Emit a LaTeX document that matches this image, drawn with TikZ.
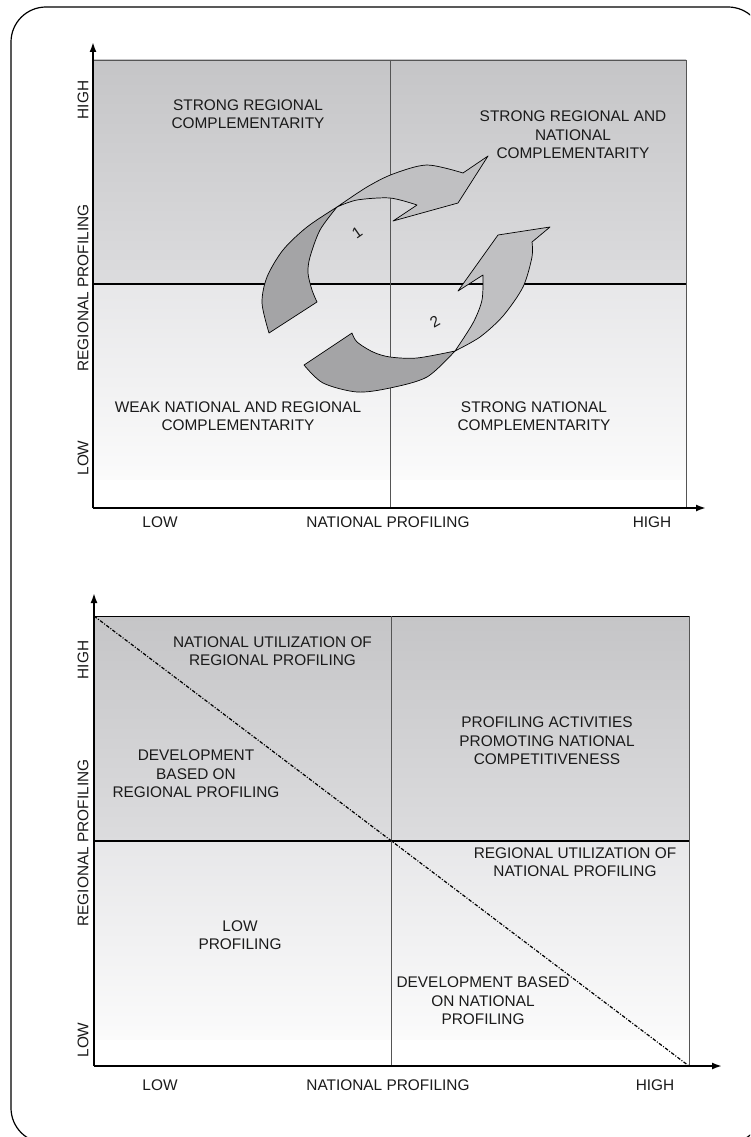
\documentclass[tikz,border=0pt]{standalone}
\usepackage{fontspec}
\setmainfont{Liberation Sans}
\usetikzlibrary{arrows.meta}
\definecolor{qtop}{HTML}{C5C5C7}
\definecolor{qmid}{HTML}{DCDCDE}
\definecolor{qlow}{HTML}{E7E7E9}
\definecolor{qbot}{HTML}{FBFBFB}
\definecolor{arrdk}{HTML}{A4A4A6}
\definecolor{arrlt}{HTML}{C0C0C2}
\definecolor{divgray}{HTML}{555555}
\definecolor{txt}{HTML}{1A1A1A}
\tikzset{
  lbl/.style={align=center, text=txt, inner sep=0pt},
  ylbl/.style={lbl, rotate=90},
  axisline/.style={line width=1.8pt, -{Latex[length=10pt,width=7pt]}},
  hdiv/.style={line width=1.3pt, black},
  vdiv/.style={line width=1pt, divgray},
  border/.style={line width=0.9pt, divgray},
  ribbondk/.style={fill=arrdk, draw=black, line width=0.7pt, line join=round},
  ribbonlt/.style={fill=arrlt, draw=black, line width=0.7pt, line join=round},
  diag/.style={line width=1.2pt, dash pattern=on 3.5pt off 1.6pt on 1pt off 1.6pt},
  frame/.style={line width=1.2pt, rounded corners=35pt},
}
\begin{document}
\begin{tikzpicture}[x=1pt,y=-1pt,font=\fontsize{15.4}{18.5}\selectfont]
\useasboundingbox (0,0) rectangle (750,1137);
\clip (0,0) rectangle (750,1137);
\fill[white] (0,0) rectangle (750,1137);
\draw[frame] (11,7) rectangle (763,1143);

% ---------------- top chart ----------------
\shade[top color=qtop, bottom color=qmid] (93,60) rectangle (686,284);
\shade[top color=qlow, bottom color=qbot] (93,284) rectangle (686,480);
\fill[white] (93,480) rectangle (686,508);
\draw[border] (93,60) -- (686,60) -- (686,508);
\draw[hdiv] (93,284) -- (686,284);
\draw[vdiv] (390,60) -- (390,508);

% ribbon arrow 1
\draw[ribbondk] plot[smooth] coordinates {(269,333) (262,303) (267,277) (283,250) (307,227) (337,207)}
  -- plot[smooth] coordinates {(337,207) (320,230) (310,257) (308,273) (312,290) (317,302)} -- cycle;
\draw[ribbonlt] plot[smooth] coordinates {(337,207) (367,187) (393,174) (427,165) (463,173)}
  -- (488,156) -- (458,203) -- (393,221) -- (417,205)
  -- plot[smooth] coordinates {(417,205) (390,198) (357,200) (337,207)} -- cycle;
% ribbon arrow 2
\draw[ribbondk] plot[smooth] coordinates {(304,365) (323,383) (357,392) (390,388) (427,377) (455,351)}
  -- plot[smooth] coordinates {(455,351) (417,358) (390,357) (373,352) (357,342) (352,333)} -- cycle;
\draw[ribbonlt] plot[smooth] coordinates {(455,351) (480,337) (503,316) (523,287) (532,257) (532,242)}
  -- (550,227) -- (498,235) -- (458,291) -- (483,275)
  -- plot[smooth] coordinates {(483,275) (482,300) (473,323) (455,351)} -- cycle;
\node[lbl, rotate=35] (n1) at (357,233) {1};
\node[lbl, rotate=30] (n2) at (435,322) {2};

\node[lbl] (a1) at (248,114) {STRONG REGIONAL\\COMPLEMENTARITY};
\node[lbl] (a2) at (573,135) {STRONG REGIONAL AND\\NATIONAL\\COMPLEMENTARITY};
\node[lbl] (a3) at (238,416) {WEAK NATIONAL AND REGIONAL\\COMPLEMENTARITY};
\node[lbl] (a4) at (534,416) {STRONG NATIONAL\\COMPLEMENTARITY};

\node[ylbl] (ay1) at (83,100) {HIGH};
\node[ylbl] (ay2) at (83,288) {REGIONAL PROFILING};
\node[ylbl] (ay3) at (83,458) {LOW};
\node[lbl] (ax1) at (160,522) {LOW};
\node[lbl] (ax2) at (388,522) {NATIONAL PROFILING};
\node[lbl] (ax3) at (652,522) {HIGH};

\coordinate (o1) at (93,508);
\coordinate (y1) at (93,42);
\coordinate (x1) at (706,508);
\draw[axisline] (o1) -- (y1);
\draw[axisline] (o1) -- (x1);

% ---------------- bottom chart ----------------
\shade[top color=qtop, bottom color=qmid] (94,616) rectangle (689,841);
\shade[top color=qlow, bottom color=qbot] (94,841) rectangle (689,1040);
\fill[white] (94,1040) rectangle (689,1066);
\draw[hdiv, line width=1pt] (94,616) -- (689,616);
\draw[border] (689,616) -- (689,1066);
\draw[hdiv] (94,841) -- (689,841);
\draw[vdiv] (391.5,616) -- (391.5,1066);

\coordinate (dA) at (94,616);
\coordinate (dB) at (689,1066);
\draw[diag] (dA) -- (dB);

\node[lbl] (b1) at (272.5,651) {NATIONAL UTILIZATION OF\\REGIONAL PROFILING};
\node[lbl] (b2) at (196,774) {DEVELOPMENT\\BASED ON\\REGIONAL PROFILING};
\node[lbl] (b3) at (547,741) {PROFILING ACTIVITIES\\PROMOTING NATIONAL\\COMPETITIVENESS};
\node[lbl] (b4) at (575,862) {REGIONAL UTILIZATION OF\\NATIONAL PROFILING};
\node[lbl] (b5) at (240,935) {LOW\\PROFILING};
\node[lbl] (b6) at (483,1001) {DEVELOPMENT BASED\\ON NATIONAL\\PROFILING};

\node[ylbl] (by1) at (83,660) {HIGH};
\node[ylbl] (by2) at (83,843) {REGIONAL PROFILING};
\node[ylbl] (by3) at (83,1040) {LOW};
\node[lbl] (bx1) at (160,1085) {LOW};
\node[lbl] (bx2) at (388,1085) {NATIONAL PROFILING};
\node[lbl] (bx3) at (655,1085) {HIGH};

\coordinate (o2) at (94,1066);
\coordinate (y2) at (94,593);
\coordinate (x2) at (722,1066);
\draw[axisline] (o2) -- (y2);
\draw[axisline] (o2) -- (x2);
\end{tikzpicture}
\end{document}
